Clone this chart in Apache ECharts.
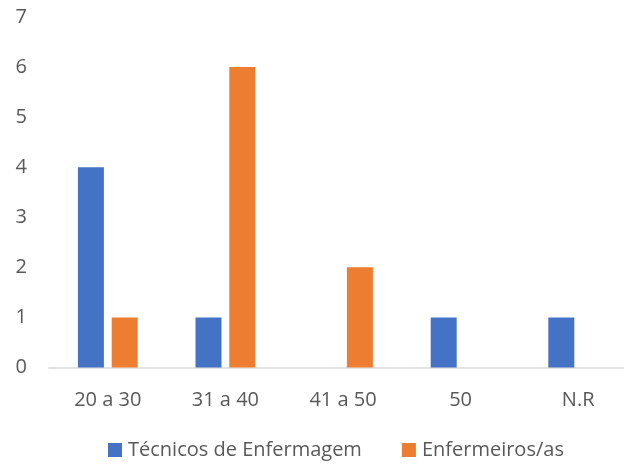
<!DOCTYPE html>
<html>
<head>
<meta charset="utf-8">
<script src="https://cdn.jsdelivr.net/npm/echarts@6/dist/echarts.min.js"></script>
<style>
  html, body { margin: 0; padding: 0; background: #fff; }
  #chart { width: 624px; height: 464px; }
</style>
</head>
<body>
<div id="chart"></div>
<script>
// Age bands of the nursing staff
const categories = ['20 a 30', '31 a 40', '41 a 50', '50', 'N.R'];
const tecnicos = [4, 1, 0, 1, 1];
const enfermeiros = [1, 6, 2, 0, 0];
const yTicks = { min: 0, max: 7, interval: 1 };

const font = '"Open Sans", "Noto Sans", sans-serif';
const chart = echarts.init(document.getElementById('chart'), null, { renderer: 'canvas' });

chart.setOption({
  animation: false,
  backgroundColor: '#ffffff',
  textStyle: { fontFamily: font },
  grid: { left: 49, width: 588, top: 17, height: 350.5, outerBoundsMode: 'none', containLabel: false },
  legend: {
    top: 435,
    left: 103,
    itemWidth: 14,
    itemHeight: 14,
    itemGap: 40,
    icon: 'rect',
    textStyle: { fontFamily: font, fontSize: 20, color: '#595959', padding: [0, 0, 0, 1] },
    data: ['Técnicos de Enfermagem', 'Enfermeiros/as']
  },
  xAxis: {
    type: 'category',
    data: categories,
    axisLine: { lineStyle: { color: '#d9d9d9', width: 1.5 } },
    axisTick: { show: false },
    axisLabel: { fontFamily: font, fontSize: 20, color: '#595959', margin: 23 }
  },
  yAxis: {
    type: 'value',
    min: yTicks.min,
    max: yTicks.max,
    interval: yTicks.interval,
    splitLine: { show: false },
    axisLine: { show: false },
    axisTick: { show: false },
    axisLabel: { fontFamily: font, fontSize: 20, color: '#595959', margin: 22 }
  },
  series: [
    {
      name: 'Técnicos de Enfermagem',
      type: 'bar',
      data: tecnicos,
      barWidth: 26,
      barGap: '30%',
      itemStyle: { color: '#4472c4' }
    },
    {
      name: 'Enfermeiros/as',
      type: 'bar',
      data: enfermeiros,
      barWidth: 26,
      barGap: '30%',
      itemStyle: { color: '#ed7d31' }
    }
  ],
  graphic: [
    {
      // bottom band that trims the category labels
      type: 'rect',
      z: 100,
      shape: { x: 0, y: 406, width: 624, height: 26 },
      style: { fill: '#ffffff' }
    }
  ]
});
</script>
</body>
</html>
